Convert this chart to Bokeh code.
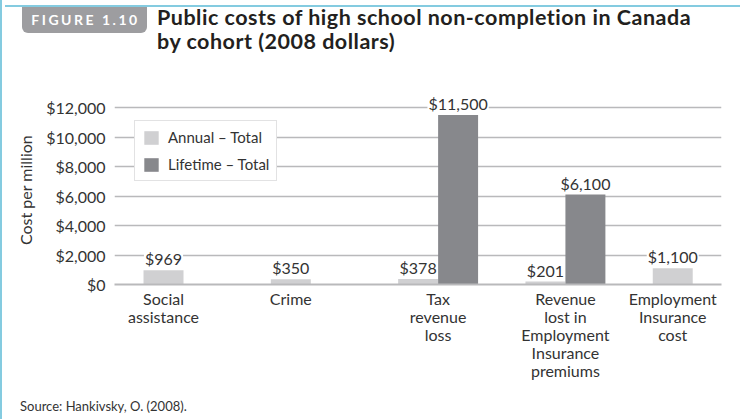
from bokeh.plotting import figure
from bokeh.layouts import column
from bokeh.models import (ColumnDataSource, FixedTicker, Range1d, Legend, LegendItem,
                          LabelSet, Div)
from bokeh.transform import dodge
from bokeh.embed import file_html
from bokeh.resources import INLINE
from bokeh.core.properties import value

# ---------------- data ----------------
categories = [
    "Social\nassistance",
    "Crime",
    "Tax\nrevenue\nloss",
    "Revenue\nlost in\nEmployment\nInsurance\npremiums",
    "Employment\nInsurance\ncost",
]
annual = [969, 350, 378, 201, 1100]
lifetime = [0, 0, 11500, 6100, 0]
series_names = ["Annual \u2013 Total", "Lifetime \u2013 Total"]
y_ticks = [0, 2000, 4000, 6000, 8000, 10000, 12000]
y_tick_labels = ["$0", "$2,000", "$4,000", "$6,000", "$8,000", "$10,000", "$12,000"]
title_line1 = "Public costs of high school non-completion in Canada"
title_line2 = "by cohort (2008 dollars)"
figure_tag = "FIGURE 1.10"
source_note = "Source: Hankivsky, O. (2008)."
y_label = "Cost per million"

# ---------------- style ----------------
FONT = "Lato"
C_ANNUAL = "#d0d0d2"
C_LIFE = "#87888c"
C_GRID = "#b9b9bb"
C_TEXT = "#333333"
TEAL = "#84cbe0"
HALF = 0.157  # half bar width in group units

W = 735
HEAD_H, FIG_H, FOOT_H = 54, 326, 23

# ---------------- header (figure tag + title) ----------------
title_style = ("position:absolute;left:152px;font-size:21.5px;font-weight:bold;"
               "letter-spacing:0.5px;line-height:24px;color:#231f20;white-space:nowrap;")
header_html = f"""
<div style="position:relative;width:{W}px;height:{HEAD_H}px;font-family:'{FONT}';">
  <div style="position:absolute;left:0;top:0;width:{W}px;height:2px;background:{TEAL};"></div>
  <div style="position:absolute;left:17px;top:2px;width:125px;height:26px;
              box-sizing:border-box;padding-left:2px;
              background:#9d9da0;border-radius:0 0 6px 6px;color:#ffffff;
              font-size:14px;font-weight:bold;letter-spacing:2.5px;text-align:center;
              line-height:26px;">{figure_tag}</div>
  <div style="{title_style}top:0px;">{title_line1}</div>
  <div style="{title_style}top:24px;">{title_line2}</div>
</div>
"""
header = Div(text=header_html, width=W, height=HEAD_H)

footer_html = f"""
<div style="position:relative;width:{W}px;height:{FOOT_H}px;font-family:'{FONT}';">
  <div style="position:absolute;left:15px;top:3px;font-size:13px;line-height:16px;
              color:{C_TEXT};white-space:nowrap;">{source_note}</div>
</div>
"""
footer = Div(text=footer_html, width=W, height=FOOT_H)

# ---------------- chart ----------------
p = figure(width=W, height=FIG_H, output_backend="svg", toolbar_location=None,
           x_range=Range1d(-0.542, 4.226), y_range=Range1d(0, 12814),
           min_border_left=114, min_border_right=14, min_border_top=31,
           min_border_bottom=106)
p.outline_line_color = None
p.background_fill_color = "white"
p.border_fill_alpha = 0

idx = list(range(len(categories)))
src = ColumnDataSource(dict(x=idx, annual=annual, lifetime=lifetime))

r_a = p.vbar(x=dodge("x", -HALF), top="annual", width=2 * HALF, source=src,
             fill_color=C_ANNUAL, line_color=None)
r_l = p.vbar(x=dodge("x", HALF), top="lifetime", width=2 * HALF, source=src,
             fill_color=C_LIFE, line_color=None)

def money(v):
    return "${:,}".format(v)

for vals, off in ((annual, -HALF), (lifetime, HALF)):
    keep = [i for i, v in enumerate(vals) if v > 0]
    ls = ColumnDataSource(dict(x=[idx[i] for i in keep], v=[vals[i] for i in keep],
                               t=[money(vals[i]) for i in keep]))
    p.add_layout(LabelSet(x=dodge("x", off), y="v", text="t", source=ls,
                          text_align="center", text_baseline="alphabetic", y_offset=5,
                          text_font=value(FONT), text_font_size="16px", text_color=C_TEXT,
                          background_fill_color="white",
                          border_line_color="white", border_line_width=2))

tick_pos = [i if lifetime[i] > 0 else i - HALF for i in idx]
p.xaxis.ticker = FixedTicker(ticks=tick_pos)
p.xaxis.major_label_overrides = {t: c for t, c in zip(tick_pos, categories)}
p.xaxis.major_label_text_font = FONT
p.xaxis.major_label_text_font_size = "16px"
p.xaxis.major_label_text_color = C_TEXT
p.xaxis.major_label_text_line_height = 0.96
p.xaxis.major_label_standoff = 4
p.xaxis.major_tick_out = 0
p.xaxis.major_tick_in = 0
p.xaxis.axis_line_color = C_GRID
p.xaxis.axis_line_width = 2
p.xaxis.major_tick_line_color = None
p.xaxis.minor_tick_line_color = None

p.yaxis.ticker = FixedTicker(ticks=y_ticks)
p.yaxis.major_label_overrides = dict(zip(y_ticks, y_tick_labels))
p.yaxis.major_label_text_font = FONT
p.yaxis.major_label_text_font_size = "16px"
p.yaxis.major_label_text_color = C_TEXT
p.yaxis.major_label_standoff = 9
p.yaxis.major_tick_out = 0
p.yaxis.major_tick_in = 0
p.yaxis.axis_line_color = None
p.yaxis.major_tick_line_color = None
p.yaxis.minor_tick_line_color = None
p.yaxis.axis_label = y_label
p.yaxis.axis_label_text_font = FONT
p.yaxis.axis_label_text_font_style = "normal"
p.yaxis.axis_label_text_font_size = "16px"
p.yaxis.axis_label_text_color = C_TEXT
p.yaxis.axis_label_standoff = 8

p.xgrid.grid_line_color = None
p.ygrid.ticker = FixedTicker(ticks=y_ticks)
p.ygrid.grid_line_color = C_GRID
p.ygrid.grid_line_width = 1.5

legend = Legend(items=[LegendItem(label=series_names[0], renderers=[r_a]),
                       LegendItem(label=series_names[1], renderers=[r_l])],
                location=(20, 103), orientation="vertical",
                glyph_width=18, glyph_height=17, label_height=17, label_standoff=8,
                padding=7, spacing=9, margin=0,
                label_text_font=FONT, label_text_font_size="15px", label_text_color=C_TEXT,
                border_line_color="#c5c5c7", border_line_width=1.5,
                background_fill_color="white", background_fill_alpha=1)
p.add_layout(legend, "center")

page = column(header, p, footer, spacing=0,
              styles={"background": f"linear-gradient(to right, {TEAL} 0px, {TEAL} 2px, "
                                    f"#ffffff 2px)"})

open("out.html", "w").write(file_html(page, INLINE))
